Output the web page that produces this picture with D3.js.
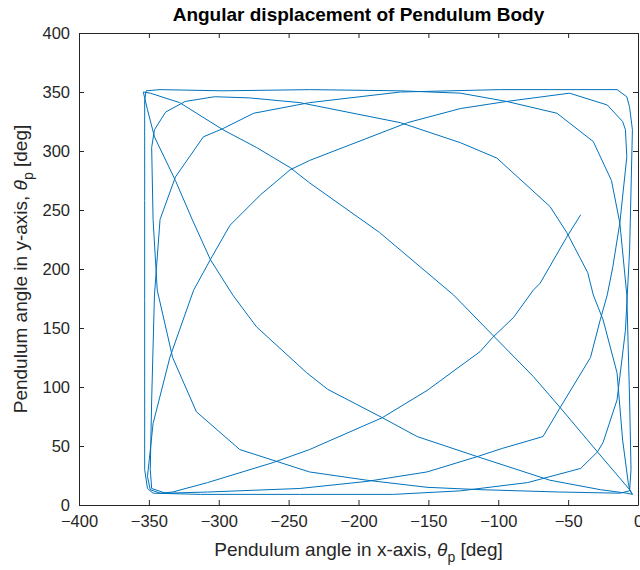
<!DOCTYPE html>
<html>
<head>
<meta charset="utf-8">
<script src="https://cdn.jsdelivr.net/npm/d3@7"></script>
<style>
  body { margin: 0; background: #fff; }
  text { font-family: "Liberation Sans", Arial, Helvetica, sans-serif; }
</style>
</head>
<body>
<div id="my_dataviz"></div>
<script>
// pendulum angles, in drawing order [deg]
const thetaX = [
  -4, -6, -29, -56, -75, -104, -132, -185, -235, -249, -273, -297, -328, -349, -354,
  -351, -346, -331, -319, -306, -290, -273, -237, -222, -183, -158, -115, -63, -27, -8, -4,
  -6, -7, -11, -15, -25, -32, -36, -51, -63, -101, -127, -170, -242, -278, -303, -324, -338, -346, -348,
  -347, -344, -333, -316, -285, -235, -194, -151, -113, -56, -13, -6,
  -5, -6, -8, -13, -19, -32, -58, -94, -127, -170, -235, -297, -342, -352,
  -353, -353, -353, -353, -353, -351, -347, -313, -242, -175, -127,
  -79, -41, -29, -25, -15, -9, -6, -4, -6, -8, -15, -99, -170,
  -235, -275, -297, -311, -331, -342, -346, -348, -349, -348, -338,
  -308, -242, -194, -151, -115, -97, -68, -56, -34, -27, -22, -18, -13, -8, -9, -11, -22, -49,
  -94, -127, -165, -235, -249, -270, -292, -306, -318, -335, -347, -351, -349, -342,
  -333, -308, -261, -235, -183, -151, -113, -104, -89, -75, -70, -51, -41
];
const thetaY = [
  9, 13, 45, 83, 109, 144, 178, 231, 273, 286, 303, 318, 341, 349, 350,
  335, 312, 275, 242, 208, 178, 151, 112, 98, 74, 58, 41, 21, 13, 10, 9,
  13, 19, 55, 112, 157, 178, 197, 231, 253, 294, 307, 324, 341, 345, 346, 342, 333, 318, 303,
  242, 182, 125, 79, 47, 28, 21, 15, 13, 11, 10, 12,
  30, 89, 178, 239, 275, 308, 332, 342, 349, 351, 352, 351, 352, 351,
  343, 258, 174, 89, 30, 14, 10, 9, 9, 9, 12,
  19, 31, 45, 53, 89, 148, 216, 318, 337, 346, 352, 352, 350,
  341, 332, 319, 312, 278, 242, 178, 89, 30, 14, 10,
  11, 14, 20, 28, 41, 48, 58, 82, 125, 157, 178, 202, 239, 295, 318, 325, 339, 349,
  342, 336, 324, 292, 284, 263, 237, 208, 182, 125, 69, 24, 13, 10,
  11, 19, 36, 47, 74, 97, 130, 142, 159, 182, 188, 227, 246
];

const xTicks = [-400, -350, -300, -250, -200, -150, -100, -50, 0];
const yTicks = [0, 50, 100, 150, 200, 250, 300, 350, 400];

// set the dimensions and margins of the graph
const margin = {top: 33, right: 2, bottom: 65, left: 79},
  width = 640 - margin.left - margin.right,
  height = 570 - margin.top - margin.bottom;

const axisColor = "#262626";

const root = d3.select("#my_dataviz")
  .append("svg")
    .attr("width", 640)
    .attr("height", 570);

const svg = root.append("g")
    .attr("transform", "translate(" + margin.left + "," + margin.top + ")");

// scales
const x = d3.scaleLinear().domain([-400, 0]).range([0, width]);
const y = d3.scaleLinear().domain([0, 400]).range([height, 0]);

// the trace
const pts = thetaX.map((v, i) => [v, thetaY[i]]);
svg.append("path")
  .datum(pts)
  .attr("fill", "none")
  .attr("stroke", "#0072BD")
  .attr("stroke-width", 1)
  .attr("stroke-linejoin", "round")
  .attr("d", d3.line().x(d => x(d[0])).y(d => y(d[1])));

// axes, ticks pointing inward on all four sides (box on)
function styleAxis(g) {
  g.select(".domain").attr("stroke", axisColor);
  g.selectAll(".tick line").attr("stroke", axisColor);
  g.selectAll(".tick text")
    .attr("fill", axisColor)
    .style("font-size", "16.5px");
}

svg.append("g")
  .attr("transform", "translate(0," + height + ")")
  .call(d3.axisBottom(x).tickValues(xTicks).tickSizeInner(-5).tickSizeOuter(0).tickPadding(10))
  .call(styleAxis);

svg.append("g")
  .call(d3.axisTop(x).tickValues(xTicks).tickSizeInner(-5).tickSizeOuter(0).tickFormat(""))
  .call(styleAxis);

svg.append("g")
  .call(d3.axisLeft(y).tickValues(yTicks).tickSizeInner(-5).tickSizeOuter(0).tickPadding(9))
  .call(styleAxis);

svg.append("g")
  .attr("transform", "translate(" + width + ",0)")
  .call(d3.axisRight(y).tickValues(yTicks).tickSizeInner(-5).tickSizeOuter(0).tickFormat(""))
  .call(styleAxis);

// title
svg.append("text")
  .attr("x", width / 2)
  .attr("y", -12)
  .attr("text-anchor", "middle")
  .style("font-size", "19px")
  .style("font-weight", "bold")
  .attr("fill", "#000")
  .text("Angular displacement of Pendulum Body");

// x label
const xl = svg.append("text")
  .attr("x", width / 2)
  .attr("y", height + 51)
  .attr("text-anchor", "middle")
  .style("font-size", "19px")
  .attr("fill", axisColor);
xl.append("tspan").text("Pendulum angle in x-axis, ");
xl.append("tspan").style("font-style", "italic").text("\u03B8");
xl.append("tspan").attr("dy", 6).style("font-size", "14px").text("p");
xl.append("tspan").attr("dy", -6).text(" [deg]");

// y label
const yl = svg.append("text")
  .attr("transform", "translate(-52," + height / 2 + ") rotate(-90)")
  .attr("text-anchor", "middle")
  .style("font-size", "19px")
  .attr("fill", axisColor);
yl.append("tspan").text("Pendulum angle in y-axis, ");
yl.append("tspan").style("font-style", "italic").text("\u03B8");
yl.append("tspan").attr("dy", 6).style("font-size", "14px").text("p");
yl.append("tspan").attr("dy", -6).text(" [deg]");
</script>
</body>
</html>
